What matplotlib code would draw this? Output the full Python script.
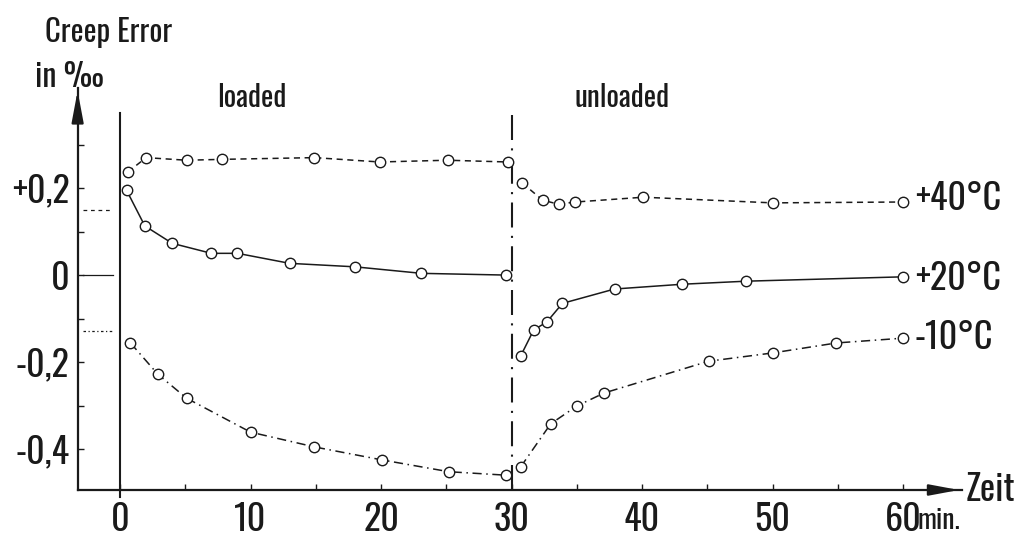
import matplotlib
matplotlib.use("Agg")
import matplotlib.pyplot as plt
from matplotlib import font_manager

# a narrow face looks closest to the stencil lettering of the original
avail = {f.name for f in font_manager.fontManager.ttflist}
narrow = [f for f in ['Oswald', 'Roboto Condensed', 'Open Sans Condensed',
                      'Liberation Sans Narrow', 'Archivo Narrow'] if f in avail]
plt.rcParams['font.family'] = narrow[:1] + ['DejaVu Sans']
plt.rcParams['font.weight'] = 'light'

# creep error in per mille (time in min)
t40_load = [0.6, 2.0, 5.1, 7.8, 14.9, 19.9, 25.1, 29.7]
e40_load = [0.237, 0.270, 0.264, 0.266, 0.270, 0.260, 0.264, 0.260]
t40_unload = [30.8, 32.4, 33.6, 34.9, 40.1, 50.0, 60.0]
e40_unload = [0.212, 0.172, 0.163, 0.168, 0.179, 0.166, 0.168]

t20_load = [0.5, 1.9, 4.0, 7.0, 9.0, 13.0, 18.0, 23.1, 29.6]
e20_load = [0.195, 0.113, 0.073, 0.050, 0.050, 0.027, 0.019, 0.004, 0.000]
t20_unload = [30.7, 31.7, 32.7, 33.9, 37.9, 43.1, 48.0, 60.0]
e20_unload = [-0.186, -0.126, -0.108, -0.065, -0.032, -0.021, -0.014, -0.004]

t10_load = [0.8, 2.9, 5.1, 10.0, 14.9, 20.1, 25.2, 29.6]
e10_load = [-0.156, -0.228, -0.283, -0.361, -0.395, -0.425, -0.452, -0.460]
t10_unload = [30.7, 33.0, 35.0, 37.1, 45.1, 50.0, 54.9, 60.0]
e10_unload = [-0.441, -0.342, -0.301, -0.271, -0.198, -0.179, -0.156, -0.145]

ref_levels = [0.149, 0.0, -0.129]
ref_styles = [(0, (3, 3)), '-', (0, (2, 2, 1, 2))]

series_labels = ['+40°C', '+20°C', '-10°C']
label_y = [0.175, -0.009, -0.145]

x_ticks = list(range(0, 61, 5))
x_ticklabels = ['0', '', '10', '', '20', '', '30', '', '40', '', '50', '', '60']
y_ticks = [-0.4, -0.3, -0.2, -0.1, 0.0, 0.1, 0.2, 0.3]
y_ticklabels = ['-0,4', '', '-0,2', '', '0', '', '+0,2', '']

INK = '#1a1a1a'

fig = plt.figure(figsize=(10.24, 5.4), dpi=100)
fig.patch.set_facecolor('white')
ax = fig.add_axes([0.0758, 0.0926, 0.8634, 0.7444])
ax.set_xlim(-3.25, 64.5)
ax.set_ylim(-0.494, 0.43)

for s in ['top', 'right']:
    ax.spines[s].set_visible(False)
for s in ['left', 'bottom']:
    ax.spines[s].set_linewidth(1.6)
    ax.spines[s].set_color(INK)

ax.set_xticks(x_ticks)
ax.set_xticklabels(x_ticklabels)
ax.set_yticks(y_ticks)
ax.set_yticklabels(y_ticklabels)
ax.tick_params(axis='x', direction='in', length=4, width=1, pad=9,
               labelsize=26, colors=INK)
ax.tick_params(axis='y', direction='in', length=4, width=1, pad=6,
               labelsize=26, colors=INK)

# arrow heads on the axes
ax.annotate('', xy=(0, 1), xytext=(0, 0.93), xycoords='axes fraction',
            arrowprops=dict(arrowstyle='-|>,head_length=1.6,head_width=0.3',
                            mutation_scale=12, color=INK, lw=1.6))
ax.annotate('', xy=(1, 0), xytext=(0.97, 0), xycoords='axes fraction',
            arrowprops=dict(arrowstyle='-|>,head_length=1.5,head_width=0.28',
                            mutation_scale=12, color=INK, lw=1.6))

# load on / load off
ax.plot([0, 0], [-0.51, 0.372], color=INK, lw=1.5, clip_on=False)
ax.plot([30, 30], [-0.494, 0.372], color=INK, lw=1.5,
        linestyle=(0, (12, 4, 1, 4)), clip_on=False)

for lev, ls in zip(ref_levels, ref_styles):
    ax.plot([-2.85, -0.55], [lev, lev], color=INK, lw=0.9, linestyle=ls)

mk = dict(marker='o', markersize=7.5, markerfacecolor='white',
          markeredgecolor=INK, markeredgewidth=1.0, color=INK, lw=1.1)
ax.plot(t40_load, e40_load, linestyle=(0, (4, 3)), **mk)
ax.plot(t40_unload, e40_unload, linestyle=(0, (4, 3)), **mk)
ax.plot(t20_load, e20_load, linestyle='-', **mk)
ax.plot(t20_unload, e20_unload, linestyle='-', **mk)
ax.plot(t10_load, e10_load, linestyle=(0, (6, 3, 1, 3)), **mk)
ax.plot(t10_unload, e10_unload, linestyle=(0, (6, 3, 1, 3)), **mk)

for lab, y in zip(series_labels, label_y):
    ax.text(60.9, y, lab, fontsize=26, va='center', ha='left', color=INK)

ax.text(10.1, 0.408, 'loaded', fontsize=21, ha='center', va='center', color=INK)
ax.text(38.5, 0.408, 'unloaded', fontsize=21, ha='center', va='center', color=INK)

ax.text(1.004, 0.0, 'Zeit', transform=ax.transAxes, fontsize=26,
        ha='left', va='center', color=INK)
ax.annotate('min.', xy=(60, 0), xycoords=('data', 'axes fraction'),
            xytext=(10.5, -12), textcoords='offset points', fontsize=20,
            ha='left', va='top', color=INK)

fig.text(0.044, 0.94, 'Creep Error', fontsize=22, ha='left', va='center', color=INK)
fig.text(0.034, 0.857, 'in ‰', fontsize=23, ha='left', va='center', color=INK)

fig.savefig('out.png', dpi=100, facecolor='white')
